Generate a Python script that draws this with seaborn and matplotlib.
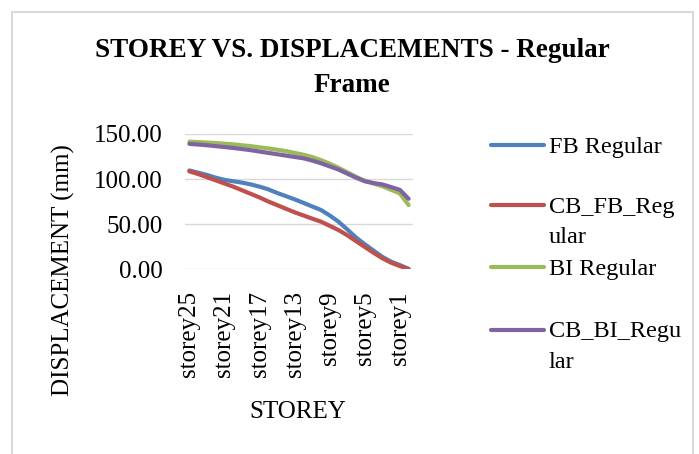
import pandas as pd
import matplotlib
matplotlib.use('Agg')
import matplotlib.pyplot as plt
import seaborn as sns
from matplotlib.patches import Rectangle
from matplotlib.lines import Line2D

""" DATA """

storeys = ['storey%d' % i for i in range(25, 0, -1)] + ['base']

fb_regular = [109.5, 107, 104.5, 101.5, 99, 97.5, 96, 94, 91.5, 88.5, 84.5, 81, 77.4,
              73.5, 69.5, 65.6, 59.5, 52.6, 44, 35, 27.5, 20.4, 13.5, 8.1, 4.4, 0]
cb_fb_regular = [108.5, 105.5, 102, 98.5, 95, 91.5, 87.5, 83.5, 79.5, 75, 71, 67, 63,
                 59.5, 56, 52.6, 48, 43.3, 37.5, 31, 24.5, 18, 12, 7, 3.3, 0]
bi_regular = [141.5, 141, 140.5, 140, 139.2, 138.5, 137.5, 136.5, 135.2, 134, 132.5, 131, 129,
              127, 124.5, 121, 117, 112.5, 107.5, 102.5, 98, 95, 92, 88, 84, 71]
cb_bi_regular = [139, 138.3, 137.5, 136.5, 135.5, 134.5, 133.3, 132, 130.5, 129, 127.5, 126, 124.5,
                 123, 120.5, 117.5, 114, 110.5, 106, 101.5, 97.5, 95.5, 94, 91, 88, 78]

series = ['FB Regular', 'CB_FB_Regular', 'BI Regular', 'CB_BI_Regular']
legend_labels = ['FB Regular', 'CB_FB_Reg\nular', 'BI Regular', 'CB_BI_Regu\nlar']
colors = ['#4F81BD', '#C0504D', '#9BBB59', '#8064A2']

df = pd.DataFrame({'storey': storeys * 4,
                   'disp': fb_regular + cb_fb_regular + bi_regular + cb_bi_regular,
                   'series': sum([[s] * len(storeys) for s in series], [])})

""" FIGURE """

sns.set_theme(style="white")
plt.rcParams["font.family"] = ["Liberation Serif", "DejaVu Serif"]
plt.rcParams["text.color"] = "black"

W, H = 699, 454
fig = plt.figure(figsize=(W/100, H/100), dpi=100)
ax = fig.add_axes([185/W, 1-269/H, 228/W, 135/H])

g = sns.lineplot(data=df, x='storey', y='disp', hue='series', palette=colors,
                 ax=ax, linewidth=3, sort=False, legend=False)

ax.set_xlim(-0.5, len(storeys) - 0.5)
ax.set_ylim(0, 150)
ax.set_yticks([0, 50, 100, 150])
ax.set_yticklabels(['%.2f' % v for v in [0, 50, 100, 150]])
ax.set_xticks(range(0, len(storeys), 4))
ax.set_xticklabels(storeys[::4], rotation=90)
ax.tick_params(axis='both', labelsize=18, length=0, colors='black')
ax.tick_params(axis='x', pad=16)
ax.tick_params(axis='y', pad=16)
ax.yaxis.grid(True, color='#d9d9d9', linewidth=1)
for s in ax.spines.values():
    s.set_visible(False)
ax.set_xlabel('')
ax.set_ylabel('')

# axis titles placed like the Excel chart
fig.text(298/W, 1-412/H, 'STOREY', ha='center', va='center', fontsize=18)
fig.text(63/W, 1-270/H, 'DISPLACEMENT (mm)', ha='center', va='center',
         rotation=90, fontsize=18)

# legend, Excel style (handle on first line of wrapped label)
rows = [145, 205, 267, 330]
for lab, col, y in zip(legend_labels, colors, rows):
    fig.add_artist(Line2D([491/W, 544/W], [1-y/H, 1-y/H], color=col,
                          linewidth=3, solid_capstyle='round'))
    for k, line in enumerate(lab.split('\n')):
        fig.text(549/W, 1-(y + 31*k + 2)/H, line, ha='left', va='center',
                 fontsize=17.5)

fig.text(352/W, 1-68/H, 'STOREY VS. DISPLACEMENTS - Regular\nFrame',
         ha='center', va='center', fontsize=19.5, fontweight='bold', linespacing=1.5)

fig.patches.append(Rectangle((12/W, -0.1), 681/W, (H-12)/H + 0.1,
                             transform=fig.transFigure, fill=False,
                             edgecolor='#d9d9d9', linewidth=1.5, clip_on=False))

fig.savefig('out.png', dpi=100)
